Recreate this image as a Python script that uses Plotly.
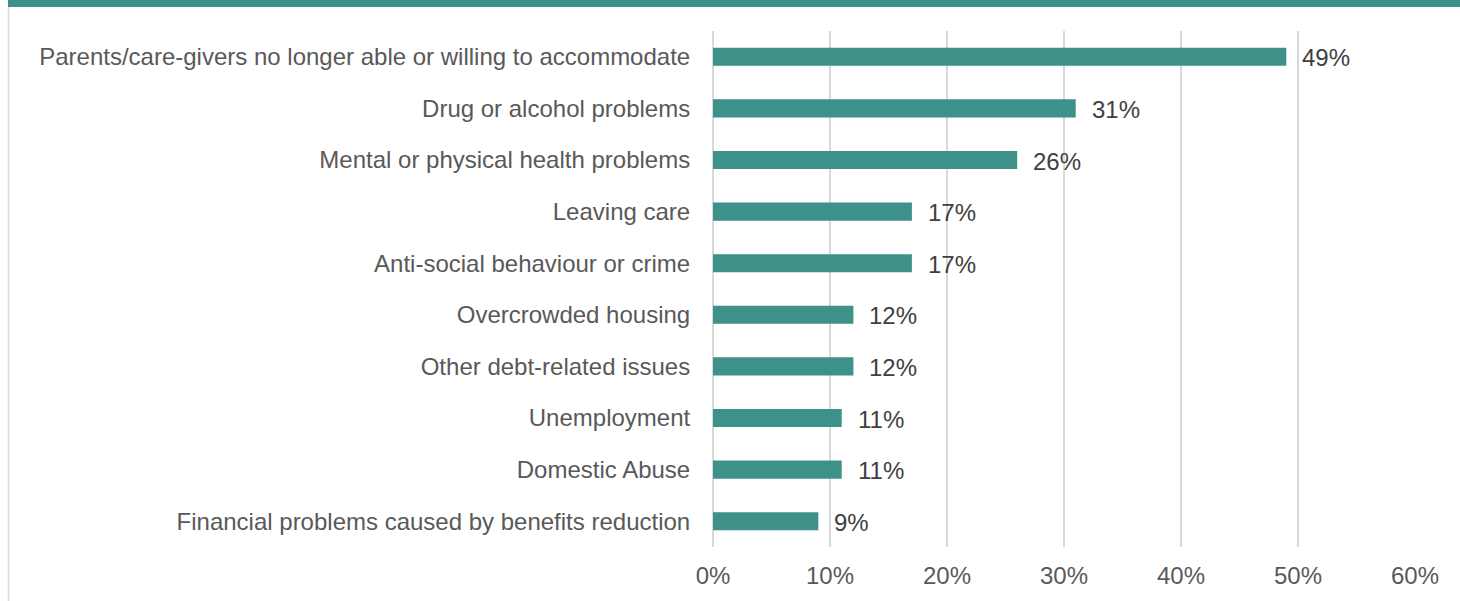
import plotly.graph_objects as go

categories = [
    "Parents/care-givers no longer able or willing to accommodate",
    "Drug or alcohol problems",
    "Mental or physical health problems",
    "Leaving care",
    "Anti-social behaviour or crime",
    "Overcrowded housing",
    "Other debt-related issues",
    "Unemployment",
    "Domestic Abuse",
    "Financial problems caused by benefits reduction",
]
values = [49, 31, 26, 17, 17, 12, 12, 11, 11, 9]
tick_vals = [0, 10, 20, 30, 40, 50, 60]
tick_text = ["0%", "10%", "20%", "30%", "40%", "50%", "60%"]

TEAL = "#3d9188"
FONT = "Liberation Sans, Arial"
W, H = 1460, 601
L, R, T, B = 713, 45, 31, 54
pw = W - L - R
ph = H - T - B

fig = go.Figure()
fig.add_trace(go.Bar(
    x=values, y=categories, orientation="h",
    marker=dict(color=TEAL, line=dict(width=0)),
    width=0.35, hoverinfo="skip",
))

for c, v in zip(categories, values):
    fig.add_annotation(x=v, y=c, text=f"{v}%", showarrow=False,
                       xanchor="left", xshift=14, yshift=-1,
                       font=dict(family=FONT, size=24, color="#404040"))

def px_x(p):
    return (p - L) / pw

def px_y(p):
    return 1 - (p - T) / ph

fig.add_shape(type="rect", xref="paper", yref="paper",
              x0=px_x(8), x1=px_x(1462), y0=px_y(7), y1=px_y(-2),
              fillcolor=TEAL, line=dict(width=0), layer="above")
fig.add_shape(type="line", xref="paper", yref="paper",
              x0=px_x(8.5), x1=px_x(8.5), y0=px_y(7), y1=px_y(605),
              line=dict(color="#d9d9d9", width=1.5))

fig.update_layout(
    width=W, height=H,
    margin=dict(l=L, r=R, t=T, b=B, autoexpand=False),
    plot_bgcolor="white", paper_bgcolor="white",
    showlegend=False,
    font=dict(family=FONT, size=24, color="#595959"),
    xaxis=dict(range=[0, 60], tickvals=tick_vals, ticktext=tick_text,
               showgrid=True, gridcolor="#d9d9d9", gridwidth=1.5,
               zeroline=True, zerolinecolor="#d9d9d9", zerolinewidth=1.5,
               showline=False,
               ticks="outside", ticklen=7, tickcolor="rgba(0,0,0,0)",
               tickfont=dict(size=24, color="#595959"), fixedrange=True),
    yaxis=dict(autorange="reversed", showgrid=False, zeroline=False,
               ticks="outside", ticklen=17, tickcolor="rgba(0,0,0,0)",
               tickfont=dict(size=24, color="#595959"), fixedrange=True),
    bargap=0.65,
)

fig.write_html("out.html", config={"displayModeBar": False},
               post_script="document.body.style.margin='0';document.body.style.overflow='hidden';")
